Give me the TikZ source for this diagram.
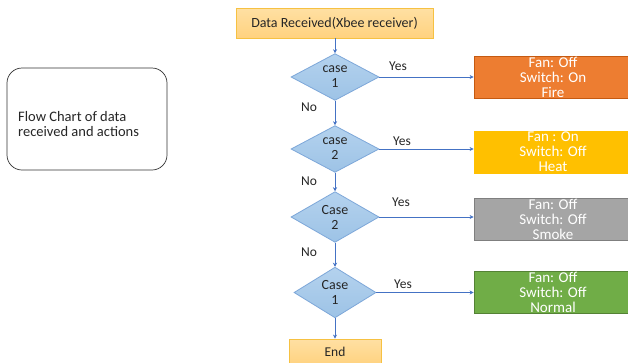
\documentclass[tikz,border=0pt]{standalone}
\usepackage{fontspec}
\setmainfont{Carlito}
\usetikzlibrary{shapes.geometric,arrows.meta}
\definecolor{lineblue}{HTML}{4472C4}
\definecolor{dmfill}{HTML}{9DC3E6}
\definecolor{dmtop}{HTML}{B4D2EE}
\definecolor{dmborder}{HTML}{7DA7D9}
\definecolor{boxorange}{HTML}{FFD27F}
\definecolor{boxtop}{HTML}{FFE0A3}
\definecolor{boxborder}{HTML}{F6C142}
\definecolor{firec}{HTML}{ED7D31}
\definecolor{firebd}{HTML}{C55A11}
\definecolor{heatc}{HTML}{FFC000}
\definecolor{smokec}{HTML}{A5A5A5}
\definecolor{smokebd}{HTML}{7F7F7F}
\definecolor{normalc}{HTML}{70AD47}
\definecolor{normalbd}{HTML}{548235}
\begin{document}
\begin{tikzpicture}[x=1pt,y=-1pt,
  every node/.style={inner sep=0pt},
  termbox/.style={rectangle, draw=boxborder, line width=0.8pt, top color=boxtop, bottom color=boxorange, align=center, text=black!85},
  casebox/.style={diamond, draw=dmborder, line width=0.8pt, top color=dmtop, bottom color=dmfill, align=center, text=black!85, font=\fontsize{14}{15}\selectfont},
  actbox/.style={rectangle, line width=0.8pt, minimum width=158pt, minimum height=42pt, align=center, text=white, font=\fontsize{15}{15}\selectfont},
  conn/.style={draw=lineblue, line width=0.6pt, -{Stealth[length=4pt,width=4pt]}},
  lab/.style={text=black!85, font=\fontsize{13.5}{15}\selectfont}
]
\useasboundingbox (0,0) rectangle (628,362);
\fill[white] (0,0) rectangle (628,362);

\node[termbox, minimum width=197pt, minimum height=30pt, font=\fontsize{14}{16}\selectfont] (start) at (334.5,23) {Data Received(Xbee receiver)};

\node[casebox, minimum width=88pt, minimum height=42pt] (c1) at (335,77) {case\\1};
\node[casebox, minimum width=88pt, minimum height=42pt] (c2) at (335,149) {case\\2};
\node[casebox, minimum width=88pt, minimum height=42pt] (c3) at (335,217) {Case\\2};
\node[casebox, minimum width=82pt, minimum height=48pt] (c4) at (335,292.5) {Case\\1};

\node[termbox, minimum width=92pt, minimum height=26pt, font=\fontsize{13.5}{15}\selectfont] (end) at (335,352) {End};

\node[actbox, fill=firec, draw=firebd] (fire) at (553,77) {Fan: Off\\Switch: On\\Fire};
\node[actbox, fill=heatc, draw=heatc] (heat) at (553,152) {Fan : On\\Switch: Off\\Heat};
\node[actbox, fill=smokec, draw=smokebd] (smoke) at (553,219.5) {Fan: Off\\Switch: Off\\Smoke};
\node[actbox, fill=normalc, draw=normalbd] (normal) at (553,292.5) {Fan: Off\\Switch: Off\\Normal};

\node[draw=black!80, line width=0.7pt, rounded corners=15pt, minimum width=160pt, minimum height=102pt] (title) at (87,119) {};
\node[align=left, anchor=west, text=black!85, font=\fontsize{14.5}{14.5}\selectfont] (titletext) at (18,124) {Flow Chart of data\\received and actions};

\draw[conn] (start.south -| c1.north) -- (c1.north);
\draw[conn] (c1.south) -- (c2.north);
\draw[conn] (c2.south) -- (c3.north);
\draw[conn] (c3.south) -- (c4.north);
\draw[conn] (c4.south) -- (end.north);

\draw[conn] (c1.east) -- (c1.east -| fire.west);
\draw[conn] (c2.east) -- (c2.east -| heat.west);
\draw[conn] (c3.east) -- (c3.east -| smoke.west);
\draw[conn] (c4.east) -- (c4.east -| normal.west);

\node[lab] (y1) at (398,66) {Yes};
\node[lab] (y2) at (402,141) {Yes};
\node[lab] (y3) at (401,202) {Yes};
\node[lab] (y4) at (403,284) {Yes};
\node[lab] (n1) at (309,107) {No};
\node[lab] (n2) at (309,181) {No};
\node[lab] (n3) at (309,252) {No};
\end{tikzpicture}
\end{document}
